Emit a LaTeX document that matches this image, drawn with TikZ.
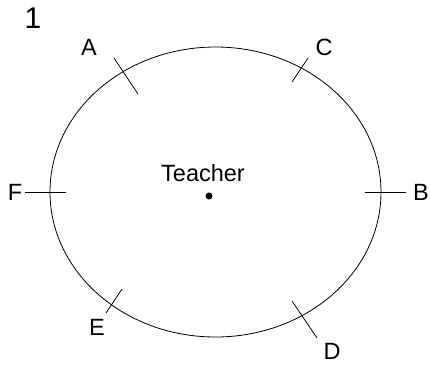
\documentclass[tikz,border=0pt]{standalone}
\usepackage{fontspec}
\setmainfont{Liberation Sans}
\tikzset{
    seat/.style={font=\fontsize{23.5}{26}\selectfont, inner sep=0pt},
    tick/.style={line width=0.8pt},
}
\begin{document}
\begin{tikzpicture}[x=1pt, y=-1pt]
    \useasboundingbox (0,0) rectangle (430,365);
    % Nummer
    \node[font=\fontsize{30}{33}\selectfont, inner sep=0pt] (num) at (33,18) {1};
    % Tisch
    \draw[line width=0.8pt] (215.5,192) ellipse [x radius=165.5, y radius=145];
    % Lehrer
    \fill (209,196) circle [radius=3.5];
    \node[seat] (teacher) at (203,173) {Teacher};
    % Platzmarken
    \coordinate (a1) at (114,58);  \coordinate (a2) at (138,94);
    \coordinate (c1) at (308,58);  \coordinate (c2) at (292,82);
    \coordinate (f1) at (25,192);  \coordinate (f2) at (66,192);
    \coordinate (b1) at (365,192); \coordinate (b2) at (406,192);
    \coordinate (e1) at (122,289); \coordinate (e2) at (106,313);
    \coordinate (d1) at (292,301); \coordinate (d2) at (317,338);
    \foreach \s in {a,c,f,b,e,d} {
        \draw[tick] (\s1) -- (\s2);
    }
    % Schueler
    \node[seat] (A) at (89,47) {A};
    \node[seat] (C) at (324,47) {C};
    \node[seat] (F) at (15,192) {F};
    \node[seat] (B) at (421,192) {B};
    \node[seat] (E) at (97,327) {E};
    \node[seat] (D) at (332,351) {D};
\end{tikzpicture}
\end{document}
